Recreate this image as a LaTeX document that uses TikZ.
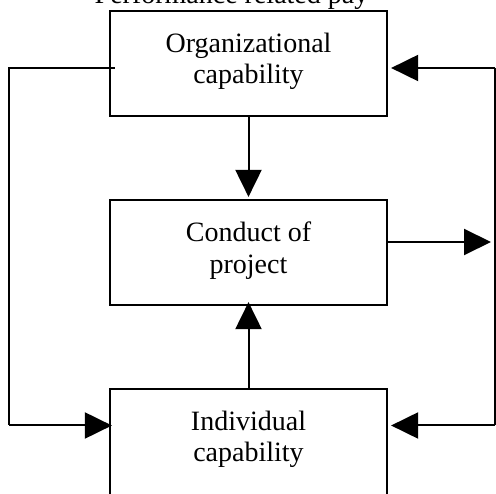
\documentclass[tikz,border=0pt]{standalone}
\usepackage{fontspec}
\setmainfont{Liberation Serif}
\usetikzlibrary{arrows.meta}
\begin{document}
\begin{tikzpicture}[x=1pt,y=-1pt,
  boxnode/.style={draw,line width=2.2pt,minimum width=277pt,minimum height=105pt,inner sep=0pt},
  lbl/.style={align=center,inner sep=0pt,font=\fontsize{28}{31.5}\selectfont},
  conn/.style={line width=2pt},
  arr/.style={line width=2pt,-{Triangle[length=27pt,width=26pt]}}]
\clip (0,0) rectangle (496,494);
\node[boxnode] (org) at (248.5,63.5) {};
\node[boxnode] (cond) at (248.5,252.5) {};
\node[boxnode,minimum height=130pt] (ind) at (248.5,454) {};
\node[lbl] (orgt) at (248.5,61.5) {Organizational\\capability};
\node[lbl] (condt) at (248.5,250.5) {Conduct of\\project};
\node[lbl] (indt) at (248.5,439.5) {Individual\\capability};
\node[lbl,anchor=base] (title) at (231.5,4) {Performance related pay};
\coordinate (l1) at (8.5,68);
\coordinate (l2) at (8.5,425.5);
\coordinate (r1) at (495,68);
\coordinate (r2) at (495,425.5);
\coordinate (out) at (491,242);
\draw[arr,shorten >=2pt] (org.south) -- (cond.north);
\draw[arr,shorten >=-4pt] (ind.north) -- (cond.south);
\draw[arr] (cond.east |- out) -- (out);
\draw[conn] ([xshift=6pt]org.west |- l1) -- (l1) -- (l2);
\draw[arr,shorten >=-3pt] (l2) -- (ind.west |- l2);
\draw[conn] (r1) -- (r2);
\draw[arr,shorten >=3pt] (r1) -- (org.east |- r1);
\draw[arr,shorten >=3pt] (r2) -- (ind.east |- r2);
\end{tikzpicture}
\end{document}
